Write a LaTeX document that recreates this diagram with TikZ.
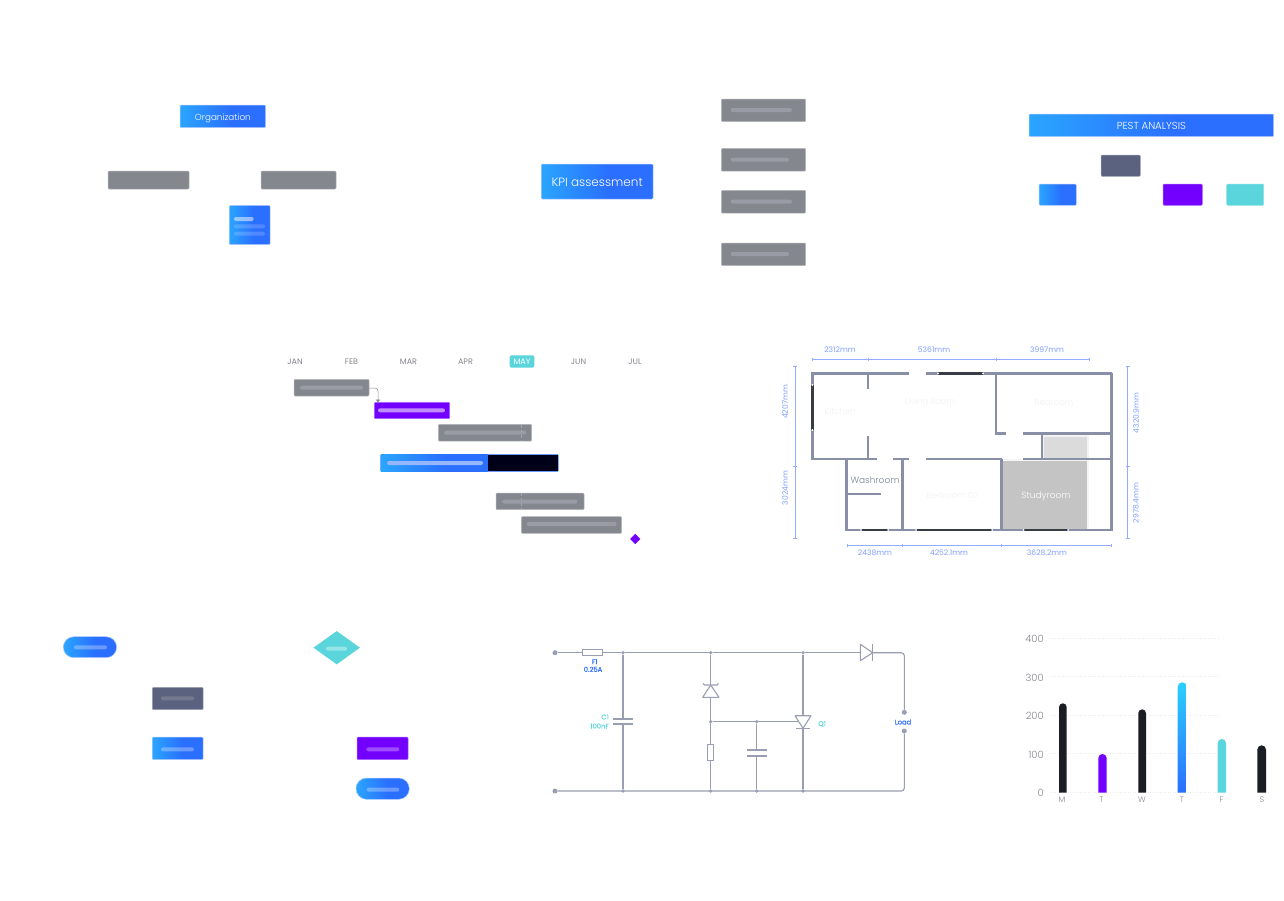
\documentclass[tikz,border=0pt]{standalone}
\usepackage{fontspec}
\setmainfont{Poppins}[UprightFont=* Light]
\newfontfamily\medfont[FakeBold=0.35]{Poppins}
\newfontfamily\regfont{Poppins}
\usetikzlibrary{arrows.meta,shapes.geometric}
\definecolor{gblue}{HTML}{2AA5FF}
\definecolor{pblue}{HTML}{2A6FFF}
\definecolor{skyend}{HTML}{2AD0FF}
\definecolor{greybox}{HTML}{85878F}
\definecolor{greybar}{HTML}{9A9CA5}
\definecolor{slate}{HTML}{5A6280}
\definecolor{violet}{HTML}{7300FF}
\definecolor{teal}{HTML}{5AD5DC}
\definecolor{inkdark}{HTML}{1A1D24}
\definecolor{wall}{HTML}{8A8FA8}
\definecolor{glass}{HTML}{3A3C44}
\definecolor{dim}{HTML}{7F9FFF}
\definecolor{wire}{HTML}{9A9EB3}
\definecolor{label}{HTML}{85878F}
\pgfdeclarehorizontalshading{bluegrad}{100bp}{color(0bp)=(gblue); color(25bp)=(gblue); color(55bp)=(pblue); color(100bp)=(pblue)}
\pgfdeclareverticalshading{bargrad}{100bp}{color(0bp)=(pblue); color(25bp)=(pblue); color(75bp)=(skyend); color(100bp)=(skyend)}
\newcommand{\bx}[7][]{%
  \pgfmathsetmacro\cx{(#4+#6)/2}\pgfmathsetmacro\cy{(#5+#7)/2}%
  \pgfmathsetmacro\ww{#6-#4}\pgfmathsetmacro\hh{#7-#5}%
  \node[box,minimum width=\ww pt,minimum height=\hh pt,#1] (#3) at (\cx,\cy) {#2};}
\newcommand{\bartrace}[5][greybar]{%
  \pgfmathsetmacro\cx{(#3+#4)/2}\pgfmathsetmacro\ww{#4-#3}%
  \node[box,rounded corners=2pt,fill=#1,minimum width=\ww pt,minimum height=4pt] (#2) at (\cx,#5) {};}
% text set on a baseline the given distance below the centre of its box
\newcommand{\dropped}[2]{\raisebox{-#1}[0pt][0pt]{#2}}
% a column with a round top and a square foot on the zero line
\newcommand{\daybar}[4]{%
  \pgfmathsetmacro\rr{(#3-#2)/2}%
  \pgfmathsetmacro\ya{#4+\rr}\pgfmathsetmacro\yb{#4+.45*\rr}%
  \pgfmathsetmacro\xa{#2+\rr}\pgfmathsetmacro\xb{#2+.45*\rr}\pgfmathsetmacro\xc{#3-.45*\rr}%
  \path[#1] (#2,792.5) -- (#2,\ya) .. controls (#2,\yb) and (\xb,#4) .. (\xa,#4)
    .. controls (\xc,#4) and (#3,\yb) .. (#3,\ya) -- (#3,792.5) -- cycle;}
\tikzset{
  box/.style={inner sep=0pt,outer sep=0pt,rounded corners=1pt,draw=none},
  bluebox/.style={shade,shading=bluegrad,draw=pblue!35,line width=.5pt,text=white},
  greyfill/.style={fill=greybox,draw=greybox!60,line width=.5pt},
  slatefill/.style={fill=slate,draw=slate!60,line width=.5pt},
  violetfill/.style={fill=violet,draw=violet!60,line width=.5pt},
  tealfill/.style={fill=teal,draw=teal!70,line width=.5pt},
  pill/.style={rounded corners=10.5pt},
  month/.style={font=\regfont\fontsize{8}{10}\selectfont,text=label,inner sep=0pt,yshift=-.5pt},
  wallline/.style={draw=wall,line width=2.6pt},
  pane/.style={draw=glass,line width=2.4pt},
  paneend/.style={fill=white,draw=none},
  dimline/.style={draw=dim!85!white,line width=.9pt},
  dimtext/.style={font=\regfont\fontsize{7.6}{9}\selectfont,text=dim,inner sep=0pt},
  roomfaint/.style={font=\fontsize{8.5}{10}\selectfont,text=black!5,inner sep=0pt},
  wireline/.style={draw=wire,line width=1.1pt},
  junction/.style={circle,fill=wire,inner sep=0pt,minimum size=3.6pt},
  terminal/.style={circle,fill=wire,inner sep=0pt,minimum size=5pt},
  partbox/.style={draw=wire,line width=1.1pt,fill=white,inner sep=0pt},
  circlabel/.style={font=\medfont\fontsize{6.8}{8}\selectfont,inner sep=0pt},
  axisnum/.style={font=\fontsize{10}{12}\selectfont,text=label,inner sep=0pt,anchor=east,yshift=-.8pt},
  axisday/.style={font=\fontsize{8}{10}\selectfont,text=label,inner sep=0pt},
  grid line/.style={draw=black!8,line width=.5pt,dotted},
}
\begin{document}
\begin{tikzpicture}[x=1pt,y=-1pt]
\useasboundingbox (0,0) rectangle (1284,900);
\fill[white] (0,0) rectangle (1284,900);

% organisation chart
\bx[bluebox,font=\fontsize{8.8}{11}\selectfont]{\dropped{4.3pt}{Organization}}{org}{180}{105}{265.7}{127.7}
\bx[greyfill]{}{orgl}{108}{171}{189}{189}
\bx[greyfill]{}{orgr}{261}{171}{336}{189}
\bx[bluebox]{}{orgcard}{229.3}{205.3}{270}{244.7}
\bartrace[white,fill opacity=.5]{cardA}{234}{253.7}{219}
\bartrace[white,fill opacity=.18]{cardB}{234}{265}{226.3}
\bartrace[white,fill opacity=.18]{cardC}{234}{265}{233.7}

% KPI tree
\bx[bluebox,font=\fontsize{12}{14}\selectfont]{\dropped{4.5pt}{KPI assessment}}{kpi}{541.3}{164}{653}{199}
\bx[greyfill]{}{kpiA}{721.3}{99}{805.7}{121.7}
\bx[greyfill]{}{kpiB}{721.3}{148.3}{805.7}{171}
\bx[greyfill]{}{kpiC}{721.3}{190.3}{805.7}{213}
\bx[greyfill]{}{kpiD}{721.3}{243}{805.7}{265.7}
\bartrace{kpiAt}{730.7}{792}{110}
\bartrace{kpiBt}{730.7}{789}{159.7}
\bartrace{kpiCt}{730.7}{792}{201.7}
\bartrace{kpiDt}{730.7}{789}{254}

% PEST analysis
\bx[bluebox,font=\fontsize{10.2}{12}\selectfont]{\dropped{4.1pt}{PEST ANALYSIS}}{pest}{1029}{114}{1273.7}{136.7}
\bx[slatefill]{}{pestS}{1101}{155}{1140.3}{176.3}
\bx[bluebox]{}{pestB}{1039}{184}{1076.3}{205.3}
\bx[violetfill]{}{pestV}{1163}{184}{1202.3}{205.3}
\bx[tealfill]{}{pestT}{1226.7}{184}{1263.7}{205.3}

% Gantt chart
\node[month] (jan) at (295,361.7) {JAN};
\node[month] (feb) at (351.5,361.7) {FEB};
\node[month] (mar) at (408.5,361.7) {MAR};
\node[month] (apr) at (465.5,361.7) {APR};
\bx[fill=teal,rounded corners=2pt,text=white,font=\regfont\fontsize{8}{10}\selectfont]{\dropped{2.8pt}{MAY}}{may}{509.7}{355.3}{534.3}{367.7}
\node[month] (jun) at (578.5,361.7) {JUN};
\node[month] (jul) at (635,361.7) {JUL};
\bx[greyfill]{}{taskA}{294}{379.3}{369}{396}
\bx[violetfill]{}{taskB}{374.3}{402.3}{449.7}{418.7}
\bx[greyfill]{}{taskC}{438.3}{424.3}{531.7}{441}
\bx[fill=pblue,draw=pblue!70,line width=.5pt]{}{taskD}{380.7}{454.3}{558.3}{471.7}
\bx[shade,shading=bluegrad,rounded corners=0pt]{}{taskDa}{380.9}{454.6}{487.7}{471.4}
\bx[fill=black!90!blue,rounded corners=0pt]{}{taskDb}{487.7}{454.8}{557.8}{471.2}
\bx[greyfill]{}{taskE}{496}{493}{584}{509.7}
\bx[greyfill]{}{taskF}{521.3}{516.7}{621.7}{533.3}
\bartrace{taskAt}{300}{363}{387.7}
\bartrace[violet!45!white]{taskBt}{378}{445}{410.3}
\bartrace{taskCt}{444}{526.3}{432.7}
\bartrace[white!50!pblue]{taskDt}{387}{483}{463}
\bartrace{taskEt}{502.3}{577.3}{501.7}
\bartrace{taskFt}{526.7}{616.7}{524}
\draw[draw=white!25!greybox,line width=.4pt,densely dashed] (521.3,424.6) -- (521.3,440.7) (521.3,493.3) -- (521.3,509.4);
\node[diamond,fill=violet,inner sep=0pt,minimum size=10.5pt] (milestone) at (635.3,539) {};
\coordinate (bend) at (378,388);
\draw[draw=greybox,line width=.5pt,rounded corners=3pt,-{Triangle[width=4pt,length=2.6pt]}] (taskA.east |- bend) -- (bend) -- (bend |- taskB.north);

% floor plan: room tints
\fill[black!5] (1042,435) rectangle (1089,459);
\fill[black!14] (1044,437) rectangle (1087,458);
\fill[black!4] (1001,459) rectangle (1089,531);
\fill[black!23] (1003,461) rectangle (1086.7,529);
% floor plan: walls
\draw[wallline] (812.3,373.3) -- (909,373.3) (925.7,373.3) -- (1111.7,373.3);
\draw[wallline,line cap=rect] (812.3,373.3) -- (812.3,459) -- (876,459);
\draw[wallline] (893,459) -- (909,459) (925.7,459) -- (1001.5,459) (1023.3,459) -- (1110.5,459);
\draw[wallline] (868,373.3) -- (868,389) (868,436) -- (868,459);
\draw[wallline] (846.3,459) -- (846.3,530) -- (1111.7,530) -- (1111.7,373.3);
\draw[wallline] (902.3,459) -- (902.3,530) (846.3,494) -- (880.6,494);
\draw[wallline] (1001.7,459) -- (1001.7,530);
\draw[wallline] (996,373.3) -- (996,433.3) -- (1005.7,433.3) (1023.3,433.3) -- (1110.5,433.3);
\draw[wallline,line width=2pt] (1041.7,433.3) -- (1041.7,459);
% floor plan: windows
\draw[pane] (938,373.3) -- (983,373.3) (812.3,385) -- (812.3,430);
\draw[pane] (861,530) -- (888,530) (916,530) -- (992,530) (1023.5,530) -- (1068,530);
\foreach \px/\py in {938/373.3,983/373.3,812.3/385,812.3/430,861/530,888/530,916/530,992/530,1023.5/530,1068/530}
  \fill[paneend] (\px,\py) circle (1pt);
% floor plan: room names
\node[roomfaint] (kitchen) at (840,411) {Kitchen};
\node[roomfaint] (living) at (930,402.5) {Living Room};
\node[roomfaint] (bedroom) at (1054,402.5) {Bedroom};
\node[roomfaint] (bedroomb) at (952.5,495.5) {Bedroom 02};
\node[font=\fontsize{9}{11}\selectfont,text=wall!90!black,inner sep=0pt] (washroom) at (875,480) {Washroom};
\node[font=\fontsize{9}{11}\selectfont,text=white,inner sep=0pt] (studyroom) at (1046,496.5) {Studyroom};
% floor plan: dimension lines
\draw[dimline] (812.3,359) -- (1089,359);
\foreach \x in {812.3,868,996,1089} \draw[dimline] (\x,357.5) -- (\x,360.5);
\draw[dimline] (795,366) -- (795,538);
\foreach \y in {366,466.7,538} \draw[dimline] (793,\y) -- (797,\y);
\draw[dimline] (1127.7,366) -- (1127.7,538);
\foreach \y in {366,466.7,538} \draw[dimline] (1125.7,\y) -- (1129.7,\y);
\draw[dimline] (847.3,545) -- (1111.5,545);
\foreach \x in {847.3,902.5,1001.7,1111.5} \draw[dimline] (\x,543.5) -- (\x,546.5);
\node[dimtext] (dA) at (840,350) {2312mm};
\node[dimtext] (dB) at (934,350) {5361mm};
\node[dimtext] (dC) at (1047,350) {3997mm};
\node[dimtext,rotate=90] (dD) at (785,402) {4207mm};
\node[dimtext,rotate=90] (dE) at (785,488) {3024mm};
\node[dimtext,rotate=90] (dF) at (1136,413) {4320.9mm};
\node[dimtext,rotate=90] (dG) at (1136,503) {2978.4mm};
\node[dimtext] (dH) at (875,552.5) {2438mm};
\node[dimtext] (dI) at (949,552.5) {4252.1mm};
\node[dimtext] (dJ) at (1047,552.5) {3628.2mm};

% flowchart
\bx[bluebox,pill]{}{start}{63.3}{636.7}{116.7}{657.7}
\bartrace[white,fill opacity=.3]{startt}{74}{107}{647.3}
\node[diamond,aspect=1.4,fill=teal,inner sep=0pt,minimum width=46.6pt,minimum height=33.4pt] (choice) at (336.7,647.7) {};
\bartrace[white!35!teal]{choicet}{326}{347}{648.7}
\bx[slatefill]{}{stepS}{152.3}{687.3}{203}{709.7}
\bartrace[slate!60!greybar]{stepSt}{161}{194}{698.3}
\bx[bluebox]{}{stepB}{152.3}{737}{203}{759.7}
\bartrace[white,fill opacity=.3]{stepBt}{161}{194}{749.3}
\bx[violetfill]{}{stepV}{357}{737}{408}{759.7}
\bartrace[violet!70!white]{stepVt}{366.3}{399.3}{749.3}
\bx[bluebox,pill]{}{finish}{356}{778}{409.3}{799.3}
\bartrace[white,fill opacity=.3]{finisht}{366.7}{399.3}{789.7}

% circuit: nodes on the rails
\node[terminal] (inT) at (555,652.7) {};
\node[terminal] (inB) at (555,791) {};
\node[junction] (jA) at (623,652.7) {};
\node[junction] (jB) at (710.7,652.7) {};
\node[junction] (jC) at (803,652.7) {};
\node[junction] (kA) at (623,791) {};
\node[junction] (kB) at (710.7,791) {};
\node[junction] (kC) at (756.7,791) {};
\node[junction] (kD) at (803,791) {};
\node[junction] (mA) at (710.7,721.7) {};
\node[junction] (mB) at (756.7,721.7) {};
\node[terminal] (loadA) at (904.3,712.3) {};
\node[terminal] (loadB) at (904.3,731) {};
\coordinate (cornerT) at (904.3,652.7);
\coordinate (cornerB) at (904.3,791);
\coordinate (qGate) at (799,721.7);
% circuit: wiring
\draw[wireline] (inT) -- (jA) -- (jB) -- (jC) -- (860.3,652.7);
\draw[wireline,rounded corners=3pt] (872.7,652.7) -- (cornerT) -- (loadA);
\draw[wireline,rounded corners=3pt] (inB) -- (cornerB) -- (loadB);
\draw[wireline] (jA) -- (kA) (jB) -- (kB) (jC) -- (kD) (mA) -- (qGate) (mB) -- (kC);
\bx[partbox,rounded corners=0pt]{}{fuse}{582.3}{649.7}{602.3}{655.7}
\bx[partbox,rounded corners=0pt]{}{resistor}{707.7}{744.3}{713.7}{760.3}
% circuit: capacitors
\fill[white] (613,719) rectangle (633,724.3) (747,750) rectangle (767,755.7);
\draw[wire,line width=1.7pt] (613.3,719) -- (633,719) (613.3,724.3) -- (633,724.3);
\draw[wire,line width=1.7pt] (747,750) -- (766.7,750) (747,755.7) -- (766.7,755.7);
% circuit: semiconductors
\draw[wireline,fill=white,line join=round] (860.3,644.3) -- (860.3,660.7) -- (872.7,652.7) -- cycle;
\draw[wireline] (872.7,644.3) -- (872.7,660.7);
\draw[wireline,fill=white,line join=round] (710.7,685) -- (702.7,697.3) -- (719,697.3) -- cycle;
\draw[wireline] (703,683.5) -- (704.5,685) -- (717,685) -- (718.5,683.5);
\draw[wireline,fill=white,line join=round] (795,715.7) -- (811,715.7) -- (803,728.3) -- cycle;
\draw[wireline] (796,728.3) -- (810,728.3);
% circuit: labels
\node[circlabel,text=pblue] (fA) at (594.7,661.7) {F1};
\node[circlabel,text=pblue] (fB) at (593,669.3) {0.25A};
\node[circlabel,text=teal,anchor=east] (cA) at (609,717) {C1};
\node[circlabel,text=teal,anchor=east] (cB) at (609,726) {100nF};
\node[circlabel,text=teal] (qL) at (822,724) {Q1};
\node[circlabel,text=pblue] (loadL) at (903,722) {Load};

% weekly bar chart
\foreach \v/\y in {400/638.3,300/676.7,200/715,100/753.7,0/792} {
  \coordinate (gl\v) at (1050,\y);
  \coordinate (gr\v) at (1220,\y);
  \draw[grid line] (gl\v) -- (gr\v);
  \node[axisnum] (ax\v) at (1044,\y) {\v};
}
\daybar{fill=inkdark}{1059}{1066.7}{703.3}
\daybar{fill=violet}{1098.3}{1106.7}{754}
\daybar{fill=inkdark}{1138.3}{1146}{709.3}
\daybar{shade,shading=bargrad}{1177.7}{1186.7}{682.3}
\daybar{fill=teal}{1217.7}{1226}{739}
\daybar{fill=inkdark}{1257.3}{1266}{745.3}
\node[axisday] (dayM) at (1062,800) {M};
\node[axisday] (dayT) at (1101.5,800) {T};
\node[axisday] (dayW) at (1142,800) {W};
\node[axisday] (dayH) at (1182,800) {T};
\node[axisday] (dayF) at (1221.5,800) {F};
\node[axisday] (dayS) at (1262,800) {S};
\end{tikzpicture}
\end{document}
